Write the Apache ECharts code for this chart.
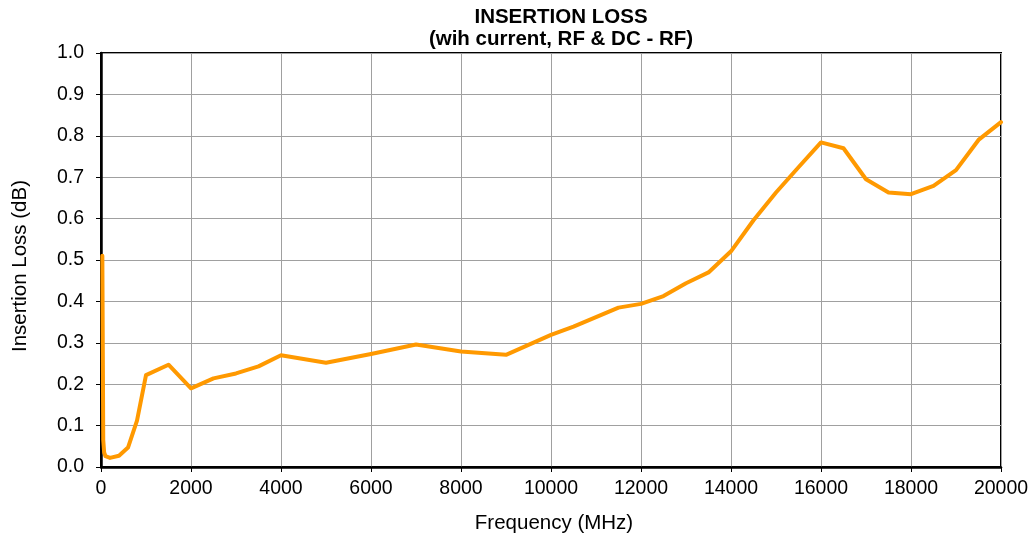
<!DOCTYPE html>
<html>
<head>
<meta charset="utf-8">
<script src="https://cdn.jsdelivr.net/npm/echarts@6/dist/echarts.min.js"></script>
<style>
html,body{margin:0;padding:0;background:#fff;}
#chart{width:1034px;height:538px;}
</style>
</head>
<body>
<div id="chart"></div>
<script>
const titleLines = ['INSERTION LOSS', '(wih current, RF & DC - RF)'];
const xName = 'Frequency (MHz)';
const yName = 'Insertion Loss (dB)';
const freqMHz = [30, 50, 70, 100, 200, 400, 600, 800, 1000, 1500, 2000, 2500, 3000, 3500, 4000, 5000, 6000, 7000, 8000, 9000, 10000, 10500, 11000, 11500, 12000, 12500, 13000, 13500, 14000, 14500, 15000, 15500, 16000, 16500, 17000, 17500, 18000, 18500, 19000, 19500, 20000];
const lossDb = [0.51, 0.065, 0.035, 0.026, 0.022, 0.027, 0.047, 0.112, 0.222, 0.247, 0.190, 0.214, 0.226, 0.243, 0.270, 0.252, 0.273, 0.296, 0.279, 0.271, 0.319, 0.339, 0.362, 0.385, 0.394, 0.413, 0.444, 0.470, 0.521, 0.596, 0.663, 0.724, 0.784, 0.770, 0.695, 0.663, 0.659, 0.679, 0.717, 0.790, 0.833];
const xMin = 0, xMax = 20000, xStep = 2000;
const yMin = 0, yMax = 1, yStep = 0.1;

const chart = echarts.init(document.getElementById('chart'));
const font = 'Liberation Sans, Arial, sans-serif';
chart.setOption({
  animation: false,
  backgroundColor: '#ffffff',
  title: {
    text: titleLines.join('\n'),
    left: 556, top: 2, textAlign: 'center',
    textStyle: { fontFamily: font, fontSize: 20.5, fontWeight: 'bold', color: '#000', lineHeight: 21.5 }
  },
  grid: { left: 101, right: 33, top: 53, bottom: 71, containLabel: false, outerBoundsMode: 'none', show: true, borderColor: '#000', borderWidth: 2, backgroundColor: 'transparent' },
  xAxis: {
    type: 'value', min: xMin, max: xMax, interval: xStep,
    name: xName, nameLocation: 'middle', nameGap: 46,
    nameTextStyle: { fontFamily: font, fontSize: 20.5, color: '#000', padding: [0, 0, 0, 6] },
    axisLine: { show: true, lineStyle: { color: '#000', width: 2.5 } },
    axisTick: { show: true, inside: false, length: 5, lineStyle: { color: '#000', width: 1 } },
    axisLabel: { fontFamily: font, fontSize: 19.5, color: '#000', margin: 12, formatter: v => String(v) },
    splitLine: { show: true, lineStyle: { color: '#a0a0a0', width: 1 } }
  },
  yAxis: {
    type: 'value', min: yMin, max: yMax, interval: yStep,
    name: yName, nameLocation: 'middle', nameGap: 70, nameRotate: 90,
    nameTextStyle: { fontFamily: font, fontSize: 20.5, color: '#000', padding: [0, 12, 0, 0] },
    axisLine: { show: true, lineStyle: { color: '#000', width: 2.5 } },
    axisTick: { show: true, inside: false, length: 5, lineStyle: { color: '#000', width: 1 } },
    axisLabel: { fontFamily: font, fontSize: 19.5, color: '#000', margin: 17, formatter: v => v.toFixed(1) },
    splitLine: { show: true, lineStyle: { color: '#a0a0a0', width: 1 } }
  },
  series: [{
    type: 'line',
    data: freqMHz.map((f, i) => [f, lossDb[i]]),
    showSymbol: false, symbol: 'none',
    lineStyle: { color: '#ff9900', width: 4, join: 'round', cap: 'round' },
    itemStyle: { color: '#ff9900' },
    smooth: false
  }]
});
</script>
</body>
</html>
